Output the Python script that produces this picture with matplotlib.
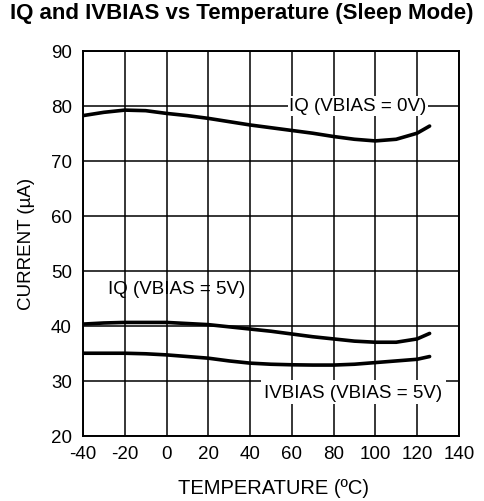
import matplotlib
matplotlib.use("Agg")
import matplotlib.pyplot as plt

temps = [-40, -30, -20, -10, 0, 10, 20, 30, 40, 50, 60, 70, 80, 90, 100, 110, 120, 126]
iq_0v = [78.2, 78.8, 79.2, 79.1, 78.6, 78.2, 77.7, 77.1, 76.5, 76.0, 75.5, 75.0, 74.4, 73.9, 73.6, 73.9, 75.0, 76.3]
iq_5v = [40.3, 40.5, 40.6, 40.6, 40.6, 40.4, 40.2, 39.8, 39.4, 39.0, 38.5, 38.0, 37.6, 37.2, 37.0, 37.0, 37.6, 38.6]
ivbias_5v = [35.0, 35.0, 35.0, 34.9, 34.7, 34.4, 34.1, 33.6, 33.2, 33.0, 32.9, 32.85, 32.85, 33.0, 33.3, 33.6, 33.9, 34.4]

xticks = [-40, -20, 0, 20, 40, 60, 80, 100, 120, 140]
xticklabels = ["-40", "-20", "0", "20", "40", "60", "80", "100", "120", "140"]
yticks = [20, 30, 40, 50, 60, 70, 80, 90]

title = "IQ and IVBIAS vs Temperature (Sleep Mode)"
xlabel = "TEMPERATURE (ºC)"
ylabel = "CURRENT (µA)"
label_0v = "IQ (VBIAS = 0V)"
label_5v = "IQ (VBIAS = 5V)"
label_ib = "IVBIAS (VBIAS = 5V)"

plt.rcParams['font.family'] = ['Liberation Sans', 'DejaVu Sans']

fig = plt.figure(figsize=(4.84, 5.02), dpi=100)
ax = fig.add_axes([0.1715, 0.130, 0.7765, 0.767])

ax.set_xlim(-40, 140)
ax.set_ylim(20, 90)
ax.set_xticks(xticks)
ax.set_xticklabels(xticklabels)
ax.set_yticks(yticks)
ax.grid(True, color='black', linewidth=1.1, zorder=1)
for s in ax.spines.values():
    s.set_linewidth(1.4)
    s.set_zorder(5)
ax.tick_params(length=0, labelsize=13.5)
ax.tick_params(axis='y', pad=8)
ax.tick_params(axis='x', pad=7)

for ys in (iq_0v, iq_5v, ivbias_5v):
    ax.plot(temps, ys, color='black', linewidth=2.6, solid_capstyle='round', zorder=3)

ax.text(91.5, 80, label_0v, fontsize=13.5, ha='center', va='center', zorder=4,
        bbox=dict(facecolor='white', edgecolor='none', pad=1.0))
ax.text(5, 46.7, label_5v, fontsize=13.5, ha='center', va='center', zorder=4)
ax.text(89.5, 27.9, label_ib, fontsize=13.5, ha='center', va='center', zorder=4,
        bbox=dict(facecolor='white', edgecolor='none', pad=2.5))

ax.set_xlabel(xlabel, fontsize=14.5)
ax.set_ylabel(ylabel, fontsize=13.5)
ax.xaxis.set_label_coords((274 - 83) / 376, -(488 - 436.7) / 385, transform=ax.transAxes)
ax.yaxis.set_label_coords(-(83 - 26) / 376, 0.5, transform=ax.transAxes)
ax.xaxis.label.set_va('center')
ax.yaxis.label.set_va('center')
fig.text(0.5, 1 - 13 / 502, title, fontsize=16, fontweight='bold', ha='center', va='center')

fig.savefig("out.png", dpi=100)
